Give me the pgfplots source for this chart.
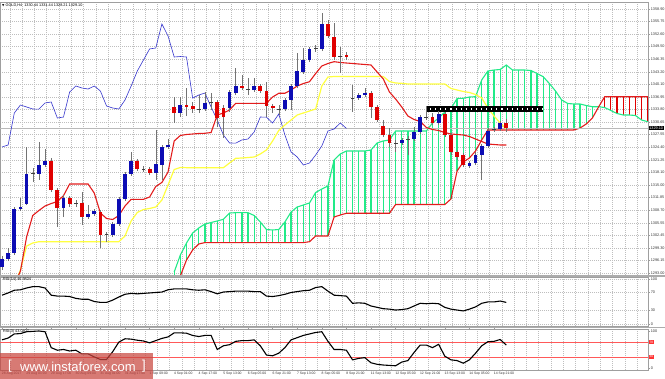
\documentclass[border=0pt]{standalone}
\usepackage{pgfplots}
\pgfplotsset{compat=1.18}
\usepackage{pgfplotstable}
\usepackage{fontspec}
\setmainfont{Liberation Sans}
\newfontfamily\dejavu{DejaVu Sans}
\definecolor{bull}{HTML}{0C0CB4}
\definecolor{bear}{HTML}{E00000}
\definecolor{tenkan}{HTML}{E21C1C}
\definecolor{kijun}{HTML}{FFFF40}
\definecolor{chikou}{HTML}{3434CC}
\definecolor{spanA}{HTML}{22EA88}
\definecolor{gridc}{HTML}{BEBEBE}
\definecolor{wm}{HTML}{C8463F}

% i Open High Low Close type(1 bull,-1 bear,0 doji)
\pgfplotstableread{
i O H L C t
0 1294.50 1297.25 1293.75 1296.50 1
1 1296.50 1299.24 1296.00 1298.00 1
2 1298.00 1309.48 1297.50 1308.98 1
3 1308.98 1311.73 1308.48 1309.48 1
4 1310.23 1324.46 1309.98 1317.72 1
5 1317.72 1319.21 1315.72 1317.97 0
6 1317.72 1325.71 1316.22 1319.96 1
7 1319.96 1323.96 1319.46 1320.96 1
8 1320.96 1321.71 1313.22 1313.72 -1
9 1313.72 1314.22 1304.49 1309.23 -1
10 1309.23 1312.47 1306.98 1311.73 1
11 1311.73 1312.23 1309.48 1310.23 -1
12 1310.23 1311.23 1309.48 1310.48 0
13 1310.48 1313.22 1304.99 1306.98 -1
14 1306.98 1309.98 1306.49 1307.73 1
15 1307.73 1308.98 1307.23 1308.48 1
16 1308.23 1308.73 1299.24 1302.49 -1
17 1302.49 1303.24 1300.74 1302.74 0
18 1302.49 1305.74 1301.99 1305.24 1
19 1305.24 1311.98 1304.74 1311.48 1
20 1311.48 1318.22 1310.98 1317.72 1
21 1317.72 1323.21 1317.22 1320.96 1
22 1320.96 1321.46 1318.47 1318.96 -1
23 1318.96 1319.71 1318.22 1318.85 0
24 1318.96 1319.46 1317.47 1317.97 -1
25 1317.97 1328.70 1316.22 1320.21 1
26 1319.96 1324.96 1316.22 1324.46 1
27 1324.46 1326.45 1323.96 1324.96 1
28 1334.44 1336.93 1330.45 1332.94 -1
29 1332.94 1336.93 1331.94 1334.94 1
30 1334.94 1339.18 1332.19 1334.44 -1
31 1334.69 1335.69 1332.94 1333.94 -1
32 1333.94 1337.43 1332.94 1333.90 0
33 1333.94 1338.18 1333.44 1335.44 1
34 1335.44 1337.93 1333.69 1335.69 0
35 1335.69 1336.19 1329.45 1331.69 -1
36 1334.19 1334.94 1326.70 1331.94 -1
37 1334.19 1338.68 1333.19 1338.18 1
38 1337.93 1344.17 1337.43 1339.68 1
39 1339.68 1342.43 1338.68 1339.18 -1
40 1339.18 1341.68 1337.43 1338.93 0
41 1338.68 1341.68 1338.18 1339.68 1
42 1339.68 1340.18 1337.93 1338.43 -1
43 1338.43 1340.68 1331.94 1334.69 -1
44 1334.69 1335.19 1332.94 1334.19 -1
45 1334.19 1334.94 1332.44 1333.94 0
46 1333.94 1336.69 1333.44 1336.19 1
47 1336.19 1340.18 1333.69 1339.68 1
48 1339.68 1347.92 1339.18 1343.42 1
49 1343.17 1349.17 1342.68 1346.17 1
50 1346.17 1349.41 1345.67 1348.92 1
51 1348.92 1349.91 1348.17 1349.17 0
52 1348.92 1357.90 1348.42 1355.16 1
53 1355.16 1356.15 1351.66 1352.16 -1
54 1351.91 1355.41 1346.17 1346.92 -1
55 1346.92 1349.41 1342.93 1347.04 0
56 1347.42 1348.17 1346.17 1346.92 -1
57 1336.69 1339.93 1333.19 1336.65 0
58 1336.69 1337.93 1336.19 1337.43 1
59 1337.43 1339.18 1336.93 1337.93 1
60 1337.93 1338.43 1331.69 1334.44 -1
61 1334.44 1334.94 1330.70 1331.19 -1
62 1329.70 1331.19 1326.95 1327.45 -1
63 1327.45 1329.20 1324.46 1325.46 -1
64 1325.46 1326.21 1323.21 1325.42 0
65 1325.46 1326.70 1324.96 1326.21 1
66 1326.21 1327.20 1322.46 1326.45 0
67 1326.45 1329.45 1325.96 1328.20 1
68 1328.20 1332.44 1327.70 1331.94 1
69 1331.94 1334.69 1331.19 1331.90 0
70 1331.94 1332.94 1329.95 1330.45 -1
71 1330.45 1333.44 1329.95 1332.69 1
72 1332.69 1333.19 1326.95 1327.45 -1
73 1327.45 1327.95 1322.46 1323.21 -1
74 1323.21 1323.71 1321.21 1321.96 -1
75 1322.46 1322.96 1319.46 1319.96 -1
76 1319.71 1320.96 1319.21 1320.46 1
77 1320.46 1323.21 1319.96 1322.46 1
78 1322.46 1325.21 1316.22 1324.71 1
79 1324.71 1329.20 1324.21 1328.45 1
80 1328.45 1329.45 1328.20 1328.95 0
81 1328.95 1330.94 1328.45 1330.45 1
82 1330.44 1331.44 1328.21 1329.10 -1
}\ohlc

% Tenkan-sen and Kijun-sen
\pgfplotstableread{
i T K
2 1290.01 1290.01
3 1293.50 1293.75
4 1301.99 1299.74
5 1307.36 1300.49
6 1308.61 1300.82
7 1309.73 1300.82
8 1310.35 1300.82
9 1310.85 1300.82
10 1312.32 1300.82
11 1315.22 1300.82
12 1315.22 1300.82
13 1315.22 1300.82
14 1315.22 1300.82
15 1312.97 1300.82
16 1307.98 1300.82
17 1306.61 1300.82
18 1306.36 1300.82
19 1307.36 1300.82
20 1309.73 1302.24
21 1311.40 1305.99
22 1311.40 1308.11
23 1311.40 1308.86
24 1311.97 1309.11
25 1314.60 1309.48
26 1315.60 1311.23
27 1318.22 1314.97
28 1325.96 1318.84
29 1327.33 1319.34
30 1327.58 1319.30
31 1327.70 1319.30
32 1327.83 1319.30
33 1327.88 1319.30
34 1328.07 1319.30
35 1332.44 1319.30
36 1332.94 1319.30
37 1333.69 1320.46
38 1335.36 1321.63
39 1335.36 1321.71
40 1335.36 1321.83
41 1335.36 1321.96
42 1335.36 1322.71
43 1335.36 1323.71
44 1336.93 1325.96
45 1337.86 1328.57
46 1337.86 1329.95
47 1338.68 1331.19
48 1339.68 1332.44
49 1340.30 1332.94
50 1340.75 1333.44
51 1342.80 1333.94
52 1344.67 1339.68
53 1345.30 1341.93
54 1345.75 1342.05
55 1345.55 1342.05
56 1345.42 1342.05
57 1345.30 1342.05
58 1345.17 1342.05
59 1345.05 1342.05
60 1344.92 1342.05
61 1343.17 1342.05
62 1341.43 1342.05
63 1338.18 1340.80
64 1336.44 1340.43
65 1334.44 1340.35
66 1332.19 1340.18
67 1331.32 1340.18
68 1330.82 1340.18
69 1329.32 1340.18
70 1328.82 1340.18
71 1328.57 1340.18
72 1328.07 1340.18
73 1327.70 1339.06
74 1327.58 1338.68
75 1327.45 1338.31
76 1327.08 1338.06
77 1326.45 1337.56
78 1325.83 1336.69
79 1325.21 1334.19
80 1325.08 1332.19
81 1324.96 1330.45
82 1324.96 1328.95
}\tk

% Senkou span A and B (shifted 26 bars forward)
\pgfplotstableread{
i A B
28 1293.26 1288.76
29 1297.50 1292.26
30 1300.49 1296.25
31 1302.99 1298.75
32 1304.24 1300.25
33 1305.24 1300.60
34 1305.61 1300.60
35 1305.99 1300.60
36 1306.41 1300.60
37 1307.98 1300.60
38 1308.06 1300.60
39 1308.06 1300.60
40 1308.06 1300.60
41 1307.36 1300.60
42 1305.74 1300.60
43 1303.86 1300.60
44 1303.74 1300.60
45 1303.86 1300.60
46 1305.74 1300.60
47 1308.23 1300.60
48 1309.48 1300.60
49 1309.98 1300.60
50 1310.48 1300.82
51 1313.10 1302.24
52 1313.97 1302.24
53 1314.72 1302.24
54 1321.21 1306.98
55 1322.71 1307.48
56 1323.46 1307.91
57 1323.46 1307.91
58 1323.46 1307.91
59 1323.46 1307.91
60 1323.71 1307.91
61 1325.46 1307.91
62 1325.96 1307.91
63 1326.21 1307.91
64 1328.45 1310.10
65 1328.45 1310.10
66 1328.45 1310.10
67 1328.45 1310.10
68 1328.45 1310.10
69 1328.45 1310.10
70 1330.45 1310.10
71 1331.69 1310.10
72 1333.19 1310.10
73 1334.06 1311.48
74 1336.56 1318.47
75 1336.61 1320.71
76 1336.93 1321.71
77 1337.01 1323.46
78 1341.18 1326.21
79 1343.42 1328.70
80 1343.67 1328.70
81 1343.80 1328.70
82 1344.92 1328.70
83 1343.67 1328.70
84 1343.67 1328.70
85 1343.67 1328.70
86 1343.55 1328.70
87 1342.80 1328.70
88 1342.00 1328.70
89 1340.30 1328.70
90 1338.43 1328.70
91 1336.19 1328.70
92 1335.31 1328.70
93 1335.19 1328.70
94 1335.19 1329.20
95 1334.81 1330.20
96 1334.51 1331.69
97 1334.51 1334.44
98 1334.31 1337.01
99 1333.57 1337.01
100 1332.82 1337.01
101 1332.44 1337.01
102 1332.44 1337.01
103 1332.32 1337.01
104 1331.19 1337.01
105 1330.77 1337.01
}\cloud

% RSI(14) and RSI(3)
\pgfplotstableread{
i r14 r3
0 64 76
1 69 81
2 75 92
3 76 93
4 80 98
5 83 99
6 83 100
7 80 98
8 64 55
9 62 48
10 62 50
11 61 46
12 57 48
13 55 38
14 55 38
15 50 30
16 48 23
17 48 23
18 53 44
19 60 70
20 66 79
21 68 78
22 67 75
23 68 73
24 69 68
25 70 74
26 71 80
27 76 84
28 78 95
29 78 95
30 78 94
31 76 88
32 75 85
33 76 88
34 72 88
35 67 50
36 71 60
37 72 63
38 73 72
39 73 74
40 73 74
41 72 76
42 72 60
43 62 35
44 61 33
45 63 40
46 66 55
47 70 76
48 72 82
49 74 88
50 75 92
51 81 96
52 83 98
53 73 72
54 64 50
55 63 50
56 62 48
57 46 22
58 47 26
59 46 28
60 40 14
61 37 10
62 34 8
63 33 7
64 31 6
65 32 16
66 34 20
67 40 42
68 46 62
69 45 62
70 46 55
71 45 64
72 37 32
73 33 22
74 31 20
75 29 13
76 33 22
77 38 40
78 46 60
79 49 71
80 49 72
81 51 77
82 48 62
}\rsi

\tikzset{fsz/.style={font=\fontsize{3.8}{4.4}\selectfont}}
\pgfplotsset{
  mtframe/.style={
    scale only axis, width=648pt,
    xmin=-0.325, xmax=105.04,
    axis line style={draw=gray!75, line width=0.9pt},
    xtick={1.25,3.25,...,105.25}, xticklabels={}, xmajorgrids,
    xtick style={draw=none},
    ymajorgrids,
    grid style={gridc, line width=0.35pt, dash pattern=on 0.7pt off 1.3pt},
    ytick pos=right, yticklabel pos=right, tick align=outside,
    major tick length=2pt,
    ytick style={draw=gray!80, line width=0.4pt},
    yticklabel style={font=\fontsize{3.8}{4.4}\selectfont, inner sep=0.6pt, text=black!80},
  },
  vbar/.style 2 args={draw=none, mark=none, forget plot,
    error bars/.cd, y dir=plus, y explicit, error mark=none,
    error bar style={draw=#1, line width=#2, solid}},
}

\begin{document}
\begin{tikzpicture}
\useasboundingbox (0,0) rectangle (665pt,379pt);

% ---------------- main price panel ----------------
\begin{axis}[mtframe, at={(0pt,104pt)}, anchor=south west, height=273pt,
  ymin=1292.51, ymax=1360.65,
  ytick={1293.00,1296.15,1299.30,1302.45,1305.55,1308.70,1311.85,1315.00,1318.10,1321.25,1324.40,1327.55,1330.65,1333.80,1336.95,1340.10,1343.20,1346.35,1349.50,1352.60,1355.75,1358.90},
  yticklabels={1293.00,1296.15,1299.30,1302.45,1305.55,1308.70,1311.85,1315.00,1318.10,1321.25,1324.40,1327.55,1330.65,1333.80,1336.95,1340.10,1343.20,1346.35,1349.50,1352.60,1355.75,1358.90},
]
% cloud hatch: green where A is above B, red where B is above A
\addplot[spanA, line width=1.3pt, mark=none, forget plot, -, restrict x to domain=27.5:97.5,
  quiver={u=0, v=\thisrow{A}-\thisrow{B}}] table[x=i, y=B] {\cloud};
\addplot[bear, line width=1.2pt, mark=none, forget plot, -, restrict x to domain=97.5:106,
  quiver={u=0, v=\thisrow{B}-\thisrow{A}}] table[x=i, y=A] {\cloud};
% span lines
\addplot[spanA, line width=1.1pt, mark=none] table[x=i, y=A] {\cloud};
\addplot[tenkan, line width=1.1pt, mark=none] table[x=i, y=B] {\cloud};
% current price line
\addplot[gray!55, line width=0.5pt, mark=none] coordinates {(-1,1329.10) (106,1329.10)};
% chikou span
\addplot[chikou, line width=0.6pt, mark=none, restrict expr to domain={\thisrow{i}}{26:82}]
  table[x expr=\thisrow{i}-26, y=C] {\ohlc};
% kijun & tenkan
\addplot[kijun, line width=1.2pt, mark=none] table[x=i, y=K] {\tk};
\addplot[tenkan, line width=1.1pt, mark=none] table[x=i, y=T] {\tk};
% black level object
\addplot[black, line width=6pt, mark=none] coordinates {(69,1333.95) (88,1333.95)};
\addplot[white, line width=2pt, mark=none, dash pattern=on 1.1pt off 4pt] coordinates {(69.6,1333.95) (88,1333.95)};
% wicks
\addplot[vbar={black!55}{0.5pt}]
  table[x=i, y=L, y error expr=\thisrow{H}-\thisrow{L}] {\ohlc};
% bodies
\addplot[restrict expr to domain={\thisrow{t}}{0.5:1.5}, vbar={bull}{3.8pt}]
  table[x=i, y=O, y error expr=\thisrow{C}-\thisrow{O}] {\ohlc};
\addplot[restrict expr to domain={\thisrow{t}}{-1.5:-0.5}, vbar={bear}{3.8pt}]
  table[x=i, y=C, y error expr=\thisrow{O}-\thisrow{C}] {\ohlc};
\addplot[only marks, mark=-, mark size=1.9pt, mark options={black!75, line width=0.7pt},
  restrict expr to domain={\thisrow{t}}{-0.5:0.5}]
  table[x=i, y=C] {\ohlc};
\end{axis}

% ---------------- RSI(14) panel ----------------
\begin{axis}[mtframe, at={(0pt,53pt)}, anchor=south west, height=49pt,
  ymin=-4.44, ymax=104.44,
  ytick={0,30,70,100}, yticklabels={0,30,70,100},
]
\addplot[black, line width=1.1pt, mark=none] table[x=i, y=r14] {\rsi};
\end{axis}

% ---------------- RSI(3) panel ----------------
\begin{axis}[mtframe, at={(0pt,9pt)}, anchor=south west, height=41pt,
  ymin=-5.4, ymax=105.4, ymajorgrids=false,
  ytick={0,100}, yticklabels={0,100},
  extra x ticks={0,4,...,80},
  extra x tick labels={28 Aug 2017,29 Aug 01:00,29 Aug 17:00,30 Aug 09:00,31 Aug 01:00,31 Aug 17:00,1 Sep 09:00,4 Sep 01:00,4 Sep 17:00,5 Sep 13:00,6 Sep 05:00,6 Sep 21:00,7 Sep 13:00,8 Sep 05:00,8 Sep 21:00,11 Sep 13:00,12 Sep 05:00,12 Sep 21:00,13 Sep 13:00,14 Sep 05:00,14 Sep 21:00},
  extra x tick style={grid=none, xtick style={draw=gray!80, line width=0.4pt}, major tick length=1.5pt,
     xticklabel style={anchor=north west, font=\fontsize{3.4}{4}\selectfont, inner sep=0.3pt, xshift=-0.6pt, text=black!80}},
]
\addplot[red!65, line width=0.5pt, mark=none] coordinates {(-1,70) (106,70)};
\addplot[red!65, line width=0.5pt, mark=none] coordinates {(-1,30) (106,30)};
\addplot[black, line width=1.1pt, mark=none] table[x=i, y=r3] {\rsi};
\end{axis}

% panel separators
\draw[gray!65, line width=1.6pt] (0pt,103pt) -- (665pt,103pt);
\draw[gray!65, line width=1.6pt] (0pt,51.5pt) -- (665pt,51.5pt);

% ---------------- annotations ----------------
\node[anchor=west, fill=black, text=white, inner sep=0.6pt, fsz] at (648.5pt,250.6pt) {1329.10};
\node[anchor=west, fill=red!80, text=white, inner sep=0.5pt, font=\fontsize{3.2}{3.6}\selectfont] at (649pt,36.9pt) {70};
\node[anchor=west, fill=red!80, text=white, inner sep=0.5pt, font=\fontsize{3.2}{3.6}\selectfont] at (649pt,22.1pt) {30};
\node[anchor=west, inner sep=0pt, fsz] at (2pt,374pt) {{\dejavu\fontsize{3}{4}\selectfont ▼} GOLD,H4\ \ 1330.44 1331.44 1328.21 1329.10};
\node[anchor=west, inner sep=0pt, fsz] at (3pt,99pt) {RSI(14) 46.9824};
\node[anchor=west, inner sep=0pt, fsz] at (3pt,47pt) {RSI(3) 43.0407};
% watermark
\fill[wm, opacity=0.72] (0pt,0pt) rectangle (153pt,26pt);
\node[anchor=west, text=white, inner sep=0pt, font=\fontsize{13}{14}\selectfont] at (8pt,12.5pt) {[};
\node[anchor=west, text=white, inner sep=0pt, font=\fontsize{13}{14}\selectfont] at (20pt,12.5pt) {www.instaforex.com};
\node[anchor=west, text=white, inner sep=0pt, font=\fontsize{13}{14}\selectfont] at (142pt,12.5pt) {]};
\end{tikzpicture}
\end{document}
